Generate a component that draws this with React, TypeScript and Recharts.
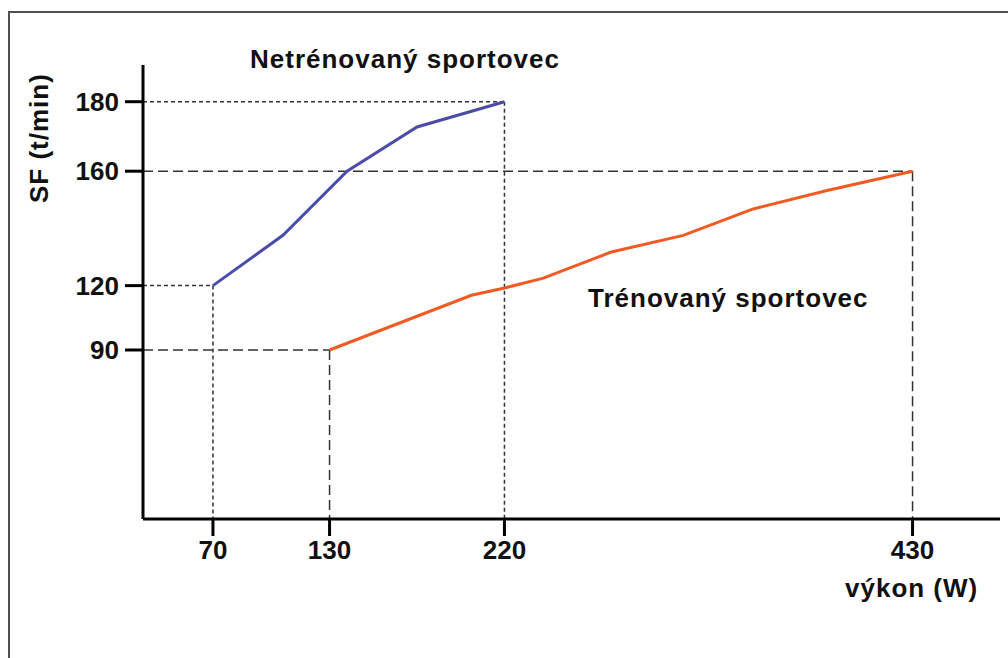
import React from "react";
import { LineChart, Line, XAxis, YAxis, ReferenceLine } from "recharts";

// power output (W) and heart rate (t/min)
const UNTRAINED_W = [70, 106, 139, 175, 220];
const UNTRAINED_SF = [120, 139, 160, 173, 180];
const TRAINED_W = [130, 203, 220, 240, 275, 312, 348, 386, 430];
const TRAINED_SF = [90, 116, 119, 123, 133, 139, 148, 154, 160];

const X_TICKS = [70, 130, 220, 430];
const Y_TICKS = [90, 120, 160, 180];

const FONT = '"Liberation Sans", Arial, sans-serif';
const BLUE = "#4b4ca8";
const ORANGE = "#f15a22";
const DASH_COLOR = "#333";
const SHORT_DASH = "4 3";
const LONG_DASH = "10 5";

// the source axis is drawn on a squared scale
const sq = (v: number) => v * v;
const X_MIN = 34;
const X_MAX = 475;
const Y_MIN = -8440;
const Y_MAX = 35992;

const untrained = UNTRAINED_W.map((w, i) => ({ w, sf: UNTRAINED_SF[i] }));
const trained = TRAINED_W.map((w, i) => ({ w, sf: TRAINED_SF[i] }));

const tickStyle = { fontFamily: FONT, fontWeight: 700, fontSize: 26, fill: "#111" };
const textStyle = {
  fontFamily: FONT,
  fontWeight: 700,
  fontSize: 26,
  fill: "#111",
  letterSpacing: 1,
};

const App: React.FC = () => {
  return (
    <div style={{ position: "fixed", left: 0, top: 0, width: 1008, height: 658, overflow: "hidden", background: "#fff" }}>
      <div
        style={{
          position: "absolute",
          left: 8,
          top: 11,
          width: 1100,
          height: 700,
          border: "2px solid #505050",
        }}
      />
      <div style={{ position: "absolute", left: 0, top: 0 }}>
        <LineChart width={1008} height={658} margin={{ top: 65, right: 8, bottom: 79, left: 0 }}>
          <XAxis
            type="number"
            dataKey="w"
            domain={[X_MIN, X_MAX]}
            ticks={X_TICKS}
            allowDataOverflow
            height={60}
            axisLine={{ stroke: "#000", strokeWidth: 3 }}
            tickLine={{ stroke: "#000", strokeWidth: 3 }}
            tickSize={17}
            tickMargin={5}
            tick={tickStyle}
          />
          <YAxis
            type="number"
            domain={[Y_MIN, Y_MAX]}
            ticks={Y_TICKS.map(sq)}
            tickFormatter={(v: number) => String(Math.round(Math.sqrt(v)))}
            allowDataOverflow
            width={143}
            axisLine={{ stroke: "#000", strokeWidth: 3 }}
            tickLine={{ stroke: "#000", strokeWidth: 3 }}
            tickSize={18}
            tickMargin={6}
            tick={tickStyle}
          />

          <ReferenceLine
            segment={[{ x: X_MIN, y: sq(180) }, { x: 220, y: sq(180) }]}
            stroke={DASH_COLOR}
            strokeWidth={1.5}
            strokeDasharray={SHORT_DASH}
          />
          <ReferenceLine
            segment={[{ x: 220, y: sq(180) }, { x: 220, y: Y_MIN }]}
            stroke={DASH_COLOR}
            strokeWidth={1.5}
            strokeDasharray={SHORT_DASH}
          />
          <ReferenceLine
            segment={[{ x: X_MIN, y: sq(120) }, { x: 70, y: sq(120) }]}
            stroke={DASH_COLOR}
            strokeWidth={1.5}
            strokeDasharray={SHORT_DASH}
          />
          <ReferenceLine
            segment={[{ x: 70, y: sq(120) }, { x: 70, y: Y_MIN }]}
            stroke={DASH_COLOR}
            strokeWidth={1.5}
            strokeDasharray={SHORT_DASH}
          />
          <ReferenceLine
            segment={[{ x: X_MIN, y: sq(160) }, { x: 430, y: sq(160) }]}
            stroke={DASH_COLOR}
            strokeWidth={1.5}
            strokeDasharray={LONG_DASH}
          />
          <ReferenceLine
            segment={[{ x: 430, y: sq(160) }, { x: 430, y: Y_MIN }]}
            stroke={DASH_COLOR}
            strokeWidth={1.5}
            strokeDasharray={LONG_DASH}
          />
          <ReferenceLine
            segment={[{ x: X_MIN, y: sq(90) }, { x: 130, y: sq(90) }]}
            stroke={DASH_COLOR}
            strokeWidth={1.5}
            strokeDasharray={LONG_DASH}
          />
          <ReferenceLine
            segment={[{ x: 130, y: sq(90) }, { x: 130, y: Y_MIN }]}
            stroke={DASH_COLOR}
            strokeWidth={1.5}
            strokeDasharray={LONG_DASH}
          />

          <Line
            data={untrained}
            dataKey={(d: { sf: number }) => sq(d.sf)}
            type="linear"
            stroke={BLUE}
            strokeWidth={3}
            dot={false}
            activeDot={false}
            isAnimationActive={false}
          />
          <Line
            data={trained}
            dataKey={(d: { sf: number }) => sq(d.sf)}
            type="linear"
            stroke={ORANGE}
            strokeWidth={3}
            dot={false}
            activeDot={false}
            isAnimationActive={false}
          />

          <text x={250} y={68} style={textStyle}>Netrénovaný sportovec</text>
          <text x={588} y={307} style={textStyle}>Trénovaný sportovec</text>
          <text x={845} y={597} style={textStyle}>výkon (W)</text>
          <text x={48} y={203} transform="rotate(-90, 48, 203)" style={textStyle}>SF (t/min)</text>
        </LineChart>
      </div>
    </div>
  );
};

export default App;
